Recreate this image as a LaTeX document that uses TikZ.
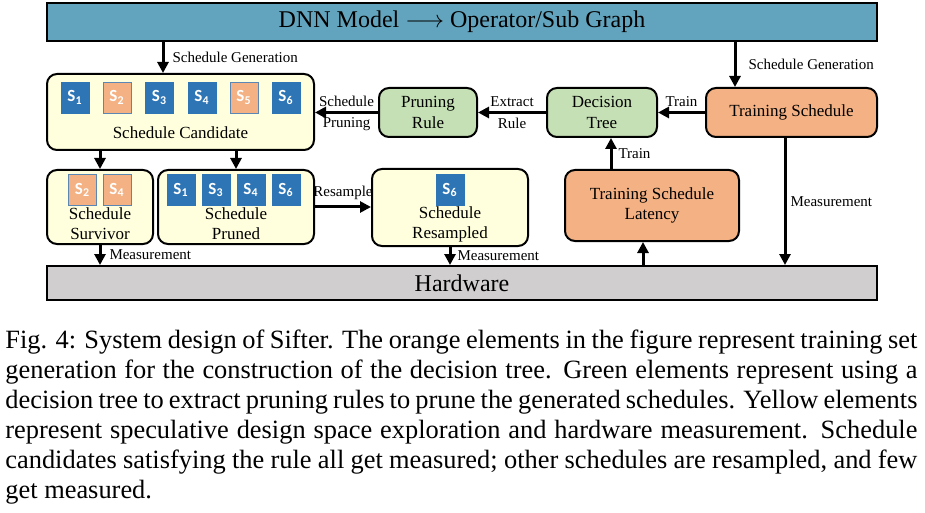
\documentclass[tikz,border=0pt]{standalone}
\usepackage{color}
\usepackage{fontspec}
\setmainfont{Liberation Serif}
\newfontfamily\sboxfont{Carlito}
\usetikzlibrary{arrows.meta}
\definecolor{titleblue}{RGB}{98,164,189}
\definecolor{candyellow}{RGB}{255,255,221}
\definecolor{rulegreen}{RGB}{197,224,180}
\definecolor{trainorange}{RGB}{244,177,131}
\definecolor{hwgray}{RGB}{208,206,206}
\definecolor{sblue}{RGB}{46,117,182}
\definecolor{sborder}{RGB}{91,135,180}
\newcommand{\captionfont}{\fontsize{13.2}{15}\selectfont\hyphenpenalty=10000\relax\tolerance=9999\relax}

\begin{document}
\begin{tikzpicture}[x=0.5pt, y=-0.5pt,
	bar/.style = {draw, line width=1pt, minimum width=415pt, inner sep=0pt, font=\fontsize{12}{14}\selectfont},
	box/.style = {draw, line width=1pt, rounded corners=5pt, align=center, inner sep=0pt, font=\fontsize{8.5}{10.2}\selectfont},
	yellowbox/.style = {box, fill=candyellow},
	greenbox/.style = {box, fill=rulegreen, minimum height=24.5pt},
	orangebox/.style = {box, fill=trainorange},
	boxtext/.style = {align=center, inner sep=0pt, font=\fontsize{8.5}{10}\selectfont},
	sbox/.style = {fill=sblue, draw=sblue, line width=0.4pt, minimum width=14pt, minimum height=15.5pt, inner sep=0pt, text=white, font=\sboxfont\bfseries\fontsize{8.5}{9}\selectfont},
	sboxo/.style = {sbox, fill=trainorange, draw=sborder},
	lbl/.style = {inner sep=2pt, font=\fontsize{7.5}{9}\selectfont},
	arr/.style = {line width=1.5pt, -{Triangle[length=5.5pt, width=5.5pt]}}]
	\useasboundingbox (0,0) rectangle (925,513);

	% bars
	\node[bar, fill=titleblue, minimum height=19pt] (title) at (462,22) {DNN Model $\longrightarrow$ Operator/Sub Graph};
	\node[bar, fill=hwgray, minimum height=17pt] (hw) at (462,283) {Hardware};

	% candidate
	\node[yellowbox, minimum width=133.5pt, minimum height=38pt] (cand) at (180.5,112) {};
	\foreach \i/\x/\s in {1/75/sbox, 2/117/sboxo, 3/159.5/sbox, 4/202/sbox, 5/244/sboxo, 6/286/sbox}
		\node[\s] (c\i) at (\x,97.5) {S\textsubscript{\i}};
	\node[boxtext] (candtext) at (180.5,133) {Schedule Candidate};

	% survivor, pruned, resampled
	\node[yellowbox, minimum width=53pt, minimum height=37pt] (surv) at (100,207) {};
	\foreach \i/\x in {2/82.5, 4/117}
		\node[sboxo] (sv\i) at (\x,190) {S\textsubscript{\i}};
	\node[boxtext] (survtext) at (100,224) {Schedule\\Survivor};

	\node[yellowbox, minimum width=78pt, minimum height=37pt] (pruned) at (236,207) {};
	\foreach \i/\x in {1/181, 3/216, 4/251, 6/286}
		\node[sbox] (pr\i) at (\x,190) {S\textsubscript{\i}};
	\node[boxtext] (prunedtext) at (236,224) {Schedule\\Pruned};

	\node[yellowbox, minimum width=78pt, minimum height=38.5pt] (resamp) at (450,207.5) {};
	\node[sbox] (rs6) at (450,190) {S\textsubscript{6}};
	\node[boxtext] (resamptext) at (450,224) {Schedule\\Resampled};

	% rule extraction
	\node[greenbox, minimum width=49pt] (prule) at (428,112.5) {Pruning\\Rule};
	\node[greenbox, minimum width=55pt] (dtree) at (602,112.5) {Decision\\Tree};
	\node[orangebox, minimum width=85.5pt, minimum height=24.5pt] (trainsched) at (791.5,112.5) {Training Schedule};
	\node[orangebox, minimum width=87pt, minimum height=35.5pt] (lat) at (652,205.5) {Training Schedule\\Latency};

	% connectors
	\draw[arr] (title.south -| 163,0) -- node[lbl, right, xshift=2pt] (sg1) {Schedule Generation} (cand.north -| 163,0);
	\draw[arr] (title.south -| 735,0) -- node[lbl, right, xshift=4pt] (sg2) {Schedule Generation} (trainsched.north -| 735,0);
	\draw[arr] (trainsched.west) -- node[lbl, above] (tr1) {Train} (dtree.east);
	\draw[arr] (dtree.west) -- node[lbl, above] (ex) {Extract} node[lbl, below] (ru) {Rule} (prule.east);
	\draw[arr] (prule.west) -- node[lbl, above] (sc) {Schedule} node[lbl, below] (pn) {Pruning} (prule.west -| cand.east);
	\draw[arr] (cand.south -| surv) -- (surv.north);
	\draw[arr] (cand.south -| pruned) -- (pruned.north);
	\draw[arr] (pruned.east) -- node[lbl, above, yshift=1pt] (rsl) {Resample} (pruned.east -| resamp.west);
	\draw[arr] (surv.south) -- node[lbl, right, xshift=2pt] (m1) {Measurement} (surv.south |- hw.north);
	\draw[arr] (resamp.south) -- node[lbl, right, xshift=1pt] (m2) {Measurement} (resamp.south |- hw.north);
	\draw[arr] (hw.north -| 643,0) -- (lat.south -| 643,0);
	\draw[arr] (lat.north -| 611,0) -- node[lbl, right, xshift=1pt] (tr2) {Train} (dtree.south -| 611,0);
	\draw[arr] (trainsched.south -| 785,0) -- node[lbl, right] (m3) {Measurement} (hw.north -| 785,0);

	% caption
	\node[anchor=north west, inner sep=0pt, text width=456pt, align=justify, font=\captionfont] (caption) at (5,330)
		{Fig. 4: System design of Sifter. The orange elements in the figure represent training set generation for the construction of the decision tree. Green elements represent using a decision tree to extract pruning rules to prune the generated schedules. Yellow elements represent speculative design space exploration and hardware measurement. Schedule candidates satisfying the rule all get measured; other schedules are resampled, and few get measured.};
\end{tikzpicture}
\end{document}
